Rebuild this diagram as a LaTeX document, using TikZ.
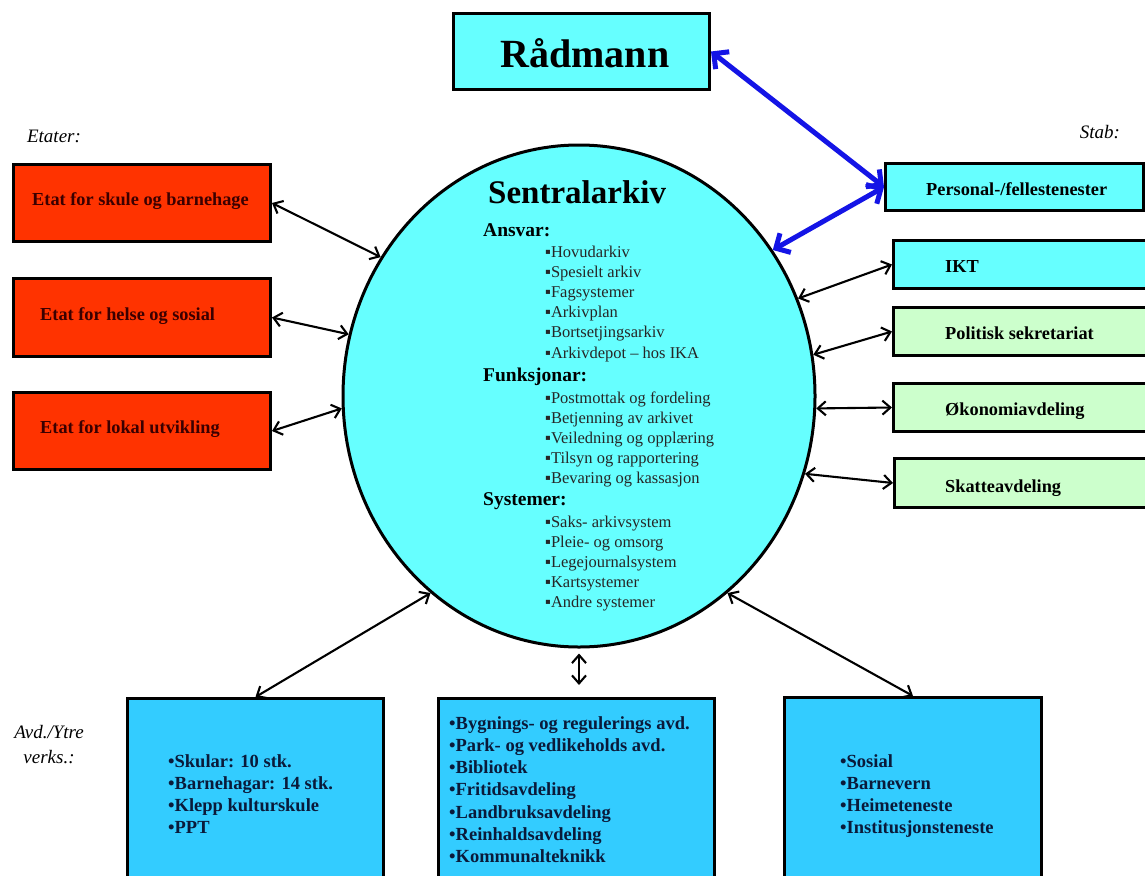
\documentclass[tikz,border=0pt]{standalone}
\usepackage{fontspec}
\setmainfont{Liberation Serif}
\usetikzlibrary{arrows.meta,shapes.geometric}
\definecolor{cyanbox}{HTML}{66FFFF}
\definecolor{redbox}{HTML}{FF3300}
\definecolor{greenbox}{HTML}{CCFFCC}
\definecolor{bluebox}{HTML}{33CCFF}
\definecolor{arrowblue}{HTML}{1414E6}
\definecolor{redtext}{HTML}{3A0000}
\definecolor{navytext}{HTML}{0A1A3A}
\begin{document}
\begin{tikzpicture}[x=1pt,y=-1pt,
  frame/.style={draw=black,line width=3pt,inner sep=0pt,anchor=north west},
  lbl/.style={inner sep=0pt,anchor=base west},
  etattext/.style={lbl,text=redtext,font=\bfseries\fontsize{18.3}{18.3}\selectfont},
  stabtext/.style={lbl,font=\bfseries\fontsize{18.3}{18.3}\selectfont},
  head/.style={lbl,font=\bfseries\fontsize{19.5}{19.5}\selectfont},
  item/.style={lbl,text=black!85,font=\fontsize{16.5}{16.5}\selectfont},
  btext/.style={lbl,text=navytext,font=\bfseries\fontsize{18.5}{18.5}\selectfont},
  side/.style={inner sep=0pt,anchor=base,font=\itshape\fontsize{19}{19}\selectfont},
  conn/.style={line width=2.1pt,{Straight Barb[length=8pt,width=14pt]}-{Straight Barb[length=8pt,width=14pt]}},
  bconn/.style={draw=arrowblue,line width=5pt,{Straight Barb[length=11pt,width=22pt]}-{Straight Barb[length=11pt,width=22pt]}}]
\path[use as bounding box,clip] (0,0) rectangle (1145,875);
\fill[white] (0,0) rectangle (1145,875);

% Radmann
\node[frame,fill=cyanbox,minimum width=256pt,minimum height=76pt] (radmann) at (452,12) {};
\node[lbl,anchor=base,font=\bfseries\fontsize{40}{40}\selectfont] (radtxt) at (585,67) {Rådmann};

% side labels
\node[side] (etater) at (54,142) {Etater:};
\node[side] (stab) at (1100,138) {Stab:};
\node[side] (avd) at (49,738) {Avd./Ytre};
\node[side] (verks) at (49,763) {verks.:};

% Etater boxes
\node[frame,fill=redbox,minimum width=257pt,minimum height=77pt] (etat1) at (12,163) {};
\node[frame,fill=redbox,minimum width=257pt,minimum height=78pt] (etat2) at (12,277) {};
\node[frame,fill=redbox,minimum width=257pt,minimum height=77pt] (etat3) at (12,391) {};
\node[etattext] (etat1t) at (32,205) {Etat for skule og barnehage};
\node[etattext] (etat2t) at (40,320) {Etat for helse og sosial};
\node[etattext] (etat3t) at (40,433) {Etat for lokal utvikling};

% Stab boxes
\node[frame,fill=cyanbox,minimum width=258pt,minimum height=47pt] (personal) at (884,162) {};
\node[frame,fill=cyanbox,minimum width=270pt,minimum height=48pt] (ikt) at (892,239) {};
\node[frame,fill=greenbox,minimum width=270pt,minimum height=48pt] (pol) at (892,306) {};
\node[frame,fill=greenbox,minimum width=270pt,minimum height=48pt] (oko) at (892,382) {};
\node[frame,fill=greenbox,minimum width=270pt,minimum height=49pt] (skatt) at (893,457) {};
\node[stabtext] (personalt) at (926,195) {Personal-/fellestenester};
\node[stabtext] (iktt) at (945,272) {IKT};
\node[stabtext] (polt) at (945,339) {Politisk sekretariat};
\node[stabtext] (okot) at (945,415) {Økonomiavdeling};
\node[stabtext] (skattt) at (945,492) {Skatteavdeling};

% Sentralarkiv
\node[draw=black,line width=3pt,fill=cyanbox,ellipse,minimum width=472pt,minimum height=502pt,inner sep=0pt] (arkiv) at (579,396) {};
\node[lbl,font=\bfseries\fontsize{33}{33}\selectfont] (title) at (488,203) {Sentralarkiv};
\node[head] (ansvar) at (483,236) {Ansvar:};
\foreach \t [count=\i] in {Hovudarkiv,Spesielt arkiv,Fagsystemer,Arkivplan,Bortsetjingsarkiv,Arkivdepot – hos IKA}
  \node[item] (ans\i) at (545,{257+(\i-1)*20.2}) {▪\t};
\node[head] (funk) at (483,381) {Funksjonar:};
\foreach \t [count=\i] in {Postmottak og fordeling,Betjenning av arkivet,Veiledning og opplæring,Tilsyn og rapportering,Bevaring og kassasjon}
  \node[item] (funk\i) at (545,{403+(\i-1)*20.2}) {▪\t};
\node[head] (sys) at (483,505) {Systemer:};
\foreach \t [count=\i] in {Saks- arkivsystem,Pleie- og omsorg,Legejournalsystem,Kartsystemer,Andre systemer}
  \node[item] (sys\i) at (545,{527+(\i-1)*20.2}) {▪\t};

% Bottom boxes
\node[frame,fill=bluebox,minimum width=256pt,minimum height=230pt] (bleft) at (126,697) {};
\node[frame,fill=bluebox,minimum width=276pt,minimum height=230pt] (bmid) at (437,697) {};
\node[frame,fill=bluebox,minimum width=257pt,minimum height=230pt] (bright) at (783,696) {};
\foreach \t [count=\i] in {Skular: 10 stk.,Barnehagar: 14 stk.,Klepp kulturskule,PPT}
  \node[btext] (bl\i) at (168,{767+(\i-1)*22.2}) {•\t};
\foreach \t [count=\i] in {Bygnings- og regulerings avd.,Park- og vedlikeholds avd.,Bibliotek,Fritidsavdeling,Landbruksavdeling,Reinhaldsavdeling,Kommunalteknikk}
  \node[btext] (bm\i) at (449,{729+(\i-1)*22.3}) {•\t};
\foreach \t [count=\i] in {Sosial,Barnevern,Heimeteneste,Institusjonsteneste}
  \node[btext] (br\i) at (840,{767+(\i-1)*22.2}) {•\t};

% connectors
\draw[bconn] (radmann.east) -- (personal.west);
\draw[bconn] (personal.west) -- (arkiv.37.9);
\draw[conn] (etat1.east) -- (arkiv.145.1);
\draw[conn] (etat2.east) -- (arkiv.165.1);
\draw[conn] (etat3.east) -- (arkiv.183.9);
\draw[conn] (arkiv.24.8) -- (ikt.west);
\draw[conn] (arkiv.10.2) -- (pol.west);
\draw[conn] (arkiv.-3.3) -- (oko.west);
\draw[conn] (arkiv.-19.9) -- (skatt.west);
\draw[conn] (arkiv.233.9) -- (bleft.north);
\draw[conn] (arkiv.-53.4) -- (bright.north);
\draw[conn,shorten <=5pt,shorten >=12pt] (arkiv.south) -- (arkiv.south |- bmid.north);
\end{tikzpicture}
\end{document}
